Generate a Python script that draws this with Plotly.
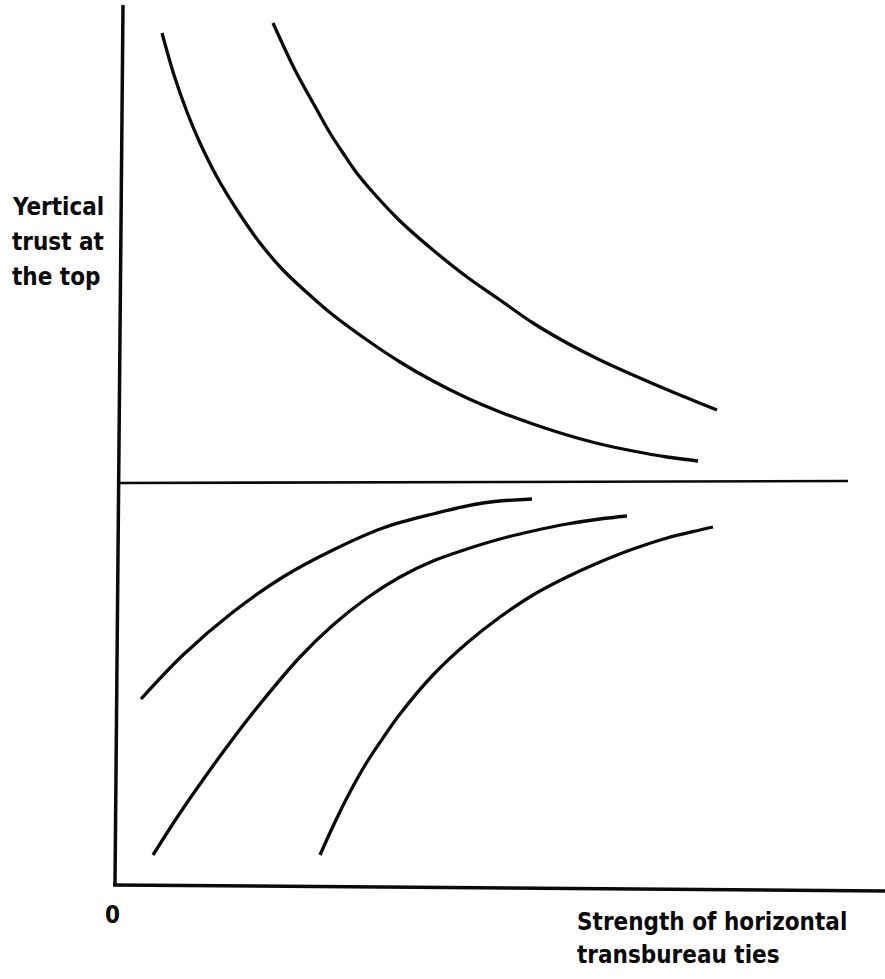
import plotly.graph_objects as go

# Data units: x = strength of horizontal ties, y = vertical trust (schematic units)
curve_a_x = [42, 54, 67, 80, 97, 117, 140, 163, 193, 213, 247, 280, 313, 347, 380, 413, 447, 480, 513, 547, 578]
curve_a_y = [851, 809, 772, 741, 707, 674, 641, 614, 586, 569, 544, 522, 503, 486, 472, 460, 449, 440, 433, 427, 423]

curve_b_x = [153, 175, 197, 210, 223, 236, 250, 280, 313, 347, 380, 413, 447, 480, 513, 555, 597]
curve_b_y = [861, 814, 774, 751, 731, 712, 695, 663, 634, 607, 584, 561, 541, 524, 509, 491, 474]

curve_c_x = [21, 63, 113, 163, 213, 263, 313, 363, 412]
curve_c_y = [185, 229, 272, 307, 334, 356, 370, 381, 385]

curve_d_x = [33, 58, 85, 112, 140, 180, 213, 247, 280, 313, 347, 380, 413, 447, 480, 507]
curve_d_y = [29, 68, 107, 144, 180, 227, 259, 286, 307, 323, 335, 345, 353, 360, 365, 368]

curve_e_x = [200, 215, 230, 247, 265, 280, 313, 347, 380, 413, 447, 480, 513, 547, 580, 593]
curve_e_y = [29, 62, 92, 122, 149, 170, 209, 241, 267, 289, 307, 322, 335, 346, 354, 357]

y_label_lines = ["Yertical", "trust at", "the top"]
x_label_lines = ["Strength of horizontal", "transbureau ties"]
origin_label = "0"

INK = "#0a0a0a"
FONT = dict(family="DejaVu Sans Condensed", size=24, color=INK, weight="bold")

fig = go.Figure()
for xs, ys in [(curve_a_x, curve_a_y), (curve_b_x, curve_b_y), (curve_c_x, curve_c_y),
               (curve_d_x, curve_d_y), (curve_e_x, curve_e_y)]:
    fig.add_trace(go.Scatter(x=xs, y=ys, mode="lines",
                             line=dict(color=INK, width=3.3, shape="spline", smoothing=1.0),
                             showlegend=False, hoverinfo="skip"))

# axes and reference line drawn as shapes (hand-drawn slight tilt)
fig.add_shape(type="line", x0=3, y0=879, x1=-5, y1=0, line=dict(color=INK, width=3.5))
fig.add_shape(type="line", x0=-7, y0=-1, x1=765, y1=-7, line=dict(color=INK, width=3.5))
fig.add_shape(type="line", x0=0, y0=401, x1=728, y1=403, line=dict(color=INK, width=2.6))

for i, t in enumerate(y_label_lines):
    fig.add_annotation(x=-110, y=677 - 35 * i, text=t, showarrow=False, xanchor="left", yanchor="middle",
                       font=FONT)
for i, t in enumerate(x_label_lines):
    fig.add_annotation(x=455, y=-38 - 33 * i, text=t, showarrow=False, xanchor="left", yanchor="middle",
                       font=FONT)
fig.add_annotation(x=-8, y=-31, text=origin_label, showarrow=False, xanchor="center", yanchor="middle",
                   font=FONT)

fig.update_layout(
    width=885, height=979,
    margin=dict(l=0, r=0, t=0, b=0),
    paper_bgcolor="white", plot_bgcolor="white",
    xaxis=dict(range=[-120, 765], visible=False, fixedrange=True),
    yaxis=dict(range=[-95, 884], visible=False, fixedrange=True),
    showlegend=False,
)
fig.write_html("out.html", config={"displayModeBar": False},
               post_script="document.body.style.margin='0px';")
